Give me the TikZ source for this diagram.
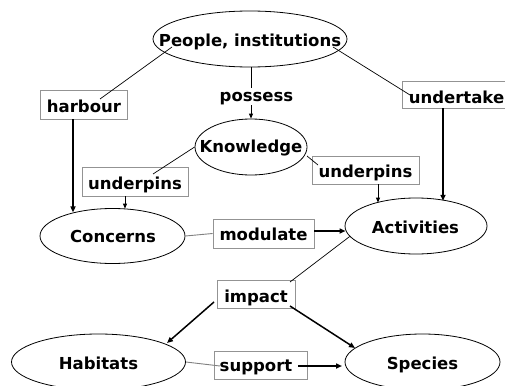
\documentclass[tikz,border=0pt]{standalone}
\usepackage{fontspec}
\setmainfont{DejaVu Sans}
\usetikzlibrary{shapes.geometric,arrows.meta}
\begin{document}
\begin{tikzpicture}[x=1pt,y=-1pt,
 ell/.style={ellipse,draw=black,line width=0.8pt,inner sep=0pt},
 lbl/.style={anchor=base,font=\fontsize{16.5}{18}\selectfont\bfseries,inner sep=0pt},
 box/.style={draw=gray!85,line width=0.9pt,inner sep=0pt},
 thinline/.style={line width=0.7pt},
 arr/.style={line width=1.5pt,-{Triangle[length=6pt,width=5pt]}},
 sarr/.style={line width=0.8pt,-{Triangle[length=5pt,width=4pt]}},
 grayline/.style={line width=0.9pt,draw=gray},
]
\useasboundingbox (0,0) rectangle (505,385);
\clip (0,0) rectangle (505,385);
% ellipses
\node[ell,minimum width=194pt,minimum height=56pt] (people) at (250,39) {};
\node[ell,minimum width=112pt,minimum height=56pt] (know) at (251,147) {};
\node[ell,minimum width=145pt,minimum height=55pt] (concerns) at (112.5,236) {};
\node[ell,minimum width=142pt,minimum height=56pt] (act) at (416,226) {};
\node[ell,minimum width=174pt,minimum height=56pt] (hab) at (98.5,362) {};
\node[ell,minimum width=155pt,minimum height=56pt] (spec) at (422.5,362) {};
% boxes
\node[box,minimum width=87pt,minimum height=29pt] (harbour) at (83.5,104.5) {};
\node[box,minimum width=108pt,minimum height=27pt] (undertake) at (456,94.5) {};
\node[box,minimum width=106pt,minimum height=29pt] (undL) at (135,181.5) {};
\node[box,minimum width=107pt,minimum height=28pt] (undR) at (365.5,170) {};
\node[box,minimum width=101pt,minimum height=29pt] (modulate) at (263.5,233.5) {};
\node[box,minimum width=78pt,minimum height=28pt] (impact) at (256,294) {};
\node[box,minimum width=93pt,minimum height=28pt] (support) at (260.5,365) {};
% labels
\node[lbl] (peopleT) at (250,46.5) {People, institutions};
\node[lbl] (knowT) at (251,152.5) {Knowledge};
\node[lbl] (concernsT) at (113,242.5) {Concerns};
\node[lbl] (actT) at (415.5,233.3) {Activities};
\node[lbl] (habT) at (98.5,369.3) {Habitats};
\node[lbl] (specT) at (422.5,369.3) {Species};
\node[lbl] (harbourT) at (84,112.7) {harbour};
\node[lbl] (undertakeT) at (456.5,103.3) {undertake};
\node[lbl] (undLT) at (135,189) {underpins};
\node[lbl] (undRT) at (365.5,177.7) {underpins};
\node[lbl] (modulateT) at (263.5,240.7) {modulate};
\node[lbl] (impactT) at (256,302.3) {impact};
\node[lbl] (supportT) at (256,371.7) {support};
\node[lbl] (possess) at (256.5,101.7) {possess};
% connector points
\coordinate (pL) at (172,47);
\coordinate (pR) at (333,47);
\coordinate (hbin) at (100,99);
\coordinate (utin) at (410,95);
\coordinate (cTop1) at (73,212.4);
\coordinate (aTop1) at (443,200.8);
\coordinate (ulin) at (153,174);
\coordinate (cTop2) at (125,208.6);
\coordinate (kR) at (307,156);
\coordinate (urin) at (318,165);
\coordinate (aTop2) at (378,202.6);
\coordinate (posTop) at (251,88);
\coordinate (posBot) at (251,105);
\coordinate (imin) at (290,282);
\coordinate (imL) at (214,302);
\coordinate (imR) at (290,306);
\coordinate (hTop) at (167,343);
\coordinate (sTop) at (355,348);
\coordinate (modout) at (314,231);
\coordinate (actin) at (345.5,231);
\coordinate (supin) at (220,366);
\coordinate (supout) at (298,366);
\coordinate (specin) at (342,366);
% connectors
\draw[thinline] (pL) -- (hbin);
\draw[arr] (harbour.south -| cTop1) -- (cTop1);
\draw[thinline] (people.south -| posTop) -- (posTop);
\draw[sarr] (posBot) -- (know.north -| posBot);
\draw[thinline] (pR) -- (utin);
\draw[arr] (undertake.south -| aTop1) -- (aTop1);
\draw[thinline] (know.west) -- (ulin);
\draw[sarr] (undL.south -| cTop2) -- (cTop2);
\draw[thinline] (kR) -- (urin);
\draw[sarr] (undR.south -| aTop2) -- (aTop2);
\draw[grayline] (concerns.east) -- (modulate.west);
\draw[arr] (modout) -- (actin);
\draw[thinline] (act.189.5) -- (imin);
\draw[arr] (imL) -- (hTop);
\draw[arr] (imR) -- (sTop);
\draw[grayline] (hab.east) -- (supin);
\draw[arr] (supout) -- (specin);
\end{tikzpicture}
\end{document}
